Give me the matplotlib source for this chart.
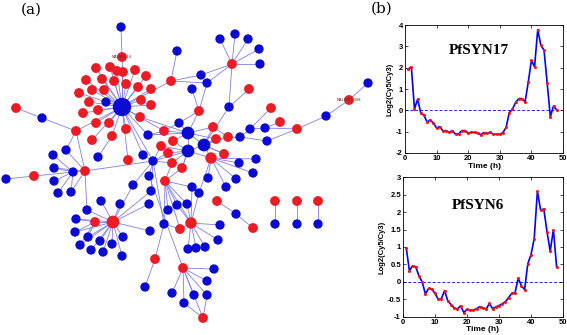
import matplotlib
matplotlib.use("Agg")
import matplotlib.pyplot as plt
import numpy as np

# ---------------- Network data (layout coordinates) ----------------
node_x = [122,121,122,96,110,117,123,135,146,86,102,114,126,138,151,79,92,104,89,106,
          141,151,83,98,140,96,109,126,112,92,76,128,98,143,148,16,42,66,53,54,
          85,73,54,34,6,58,71,177,171,192,201,207,232,220,235,248,259,260,249,229,
          199,271,280,265,250,240,267,297,326,349,368,179,188,164,173,161,213,216,228,188,
          204,168,211,224,153,172,182,239,256,253,236,226,208,192,199,165,149,133,151,149,
          120,101,87,113,95,76,75,88,80,91,100,103,112,122,123,150,164,180,191,168,
          177,187,220,218,205,196,188,155,145,183,214,207,207,194,172,184,203,217,236,253,
          275,275,297,297,318,318]
node_y = [107,27,57,68,67,71,72,70,76,80,79,81,84,87,89,93,90,90,102,102,
          100,105,113,110,117,123,123,129,136,140,131,160,157,155,135,108,118,150,155,168,
          171,172,181,176,179,193,192,51,81,89,75,83,64,39,34,39,49,64,89,107,
          111,108,122,128,129,137,141,129,116,100,83,123,133,131,141,146,127,139,137,151,
          145,153,158,154,161,163,168,163,159,173,179,187,178,187,193,181,176,185,191,204,
          204,201,210,222,222,219,232,237,245,250,241,252,244,256,237,231,224,229,223,210,
          205,204,225,240,247,248,249,259,287,268,269,281,295,295,293,303,318,201,214,228,
          201,224,201,224,201,224]
red_nodes = (list(range(2, 19)) + list(range(20, 32)) +
             [35, 40, 43, 48, 52, 58, 60, 61, 62, 67, 69, 73, 74, 75, 76, 77, 78,
              81, 82, 83, 85, 86, 95, 103, 104, 117, 118, 127, 129, 136, 137, 139,
              140, 142, 144])
node_size = {0: "H", 72: "L", 79: "L", 80: "L", 103: "L", 82: "M", 118: "M"}

edges = [(0,i) for i in range(2,32)] + [(0,33),(0,34),(0,48),(0,84),(0,73),
    (1,2),(30,36),(36,35),(30,37),(30,40),(28,32),
    (40,37),(40,39),(40,41),(40,46),(40,84),(40,102),
    (41,38),(41,39),(41,42),(41,43),(41,45),(41,46),(43,44),
    (48,47),(48,50),(48,51),(50,52),(51,52),(49,60),(51,60),
    (52,53),(52,54),(52,55),(52,56),(52,57),(52,59),(59,58),(60,72),(60,71),(59,80),
    (67,68),(68,69),(69,70),(67,63),(67,66),(63,62),(64,61),(64,63),(65,64),(65,78),(66,65),
    (78,80),(78,76),
    (71,72),(72,73),(72,74),(72,79),(72,80),(72,76),(72,77),(72,24),(71,73),(79,75),(79,81),
    (79,85),(79,86),(79,80),(80,76),(80,77),(80,82),(80,83),(79,74),(72,34),(79,84),(73,34),
    (84,75),(84,81),(84,85),(84,33),(84,96),(84,97),(84,98),(82,87),(82,88),(82,89),(82,90),
    (82,91),(82,92),(82,94),(82,79),(83,80),(85,95),(86,95),(95,93),(95,119),(95,120),
    (95,121),(95,118),(95,117),(95,116),(86,79),
    (97,103),(98,103),(99,103),(100,103),(101,103),(102,103),
    (103,104),(103,105),(103,106),(103,107),(103,108),(103,109),(103,110),(103,111),
    (103,112),(103,113),(103,114),(103,115),(104,105),(104,106),(104,107),(104,108),
    (118,93),(118,94),(118,122),(118,123),(118,124),(118,125),(118,126),(118,120),
    (118,121),(118,117),(116,117),(116,127),(127,128),(116,84),(96,129),
    (129,130),(129,131),(129,132),(129,133),(129,134),(129,135),(129,136),(135,136),(132,136),
    (137,138),(138,139),(140,141),(142,143),(144,145)]

node_labels = {2: "MAL8P1.14", 69: "MAL13P1.308"}

# ---------------- Time course data ----------------
time_h = list(range(1, 49))
syn17 = [1.93,2.04,0.06,0.53,-0.14,-0.23,-0.55,-0.45,-0.60,-0.83,-0.76,-0.97,-0.95,-1.03,
         -0.95,-1.12,-1.10,-0.95,-0.95,-1.07,-1.03,-1.03,-1.07,-1.14,-1.04,-1.07,-1.03,-1.12,
         -1.12,-1.12,-1.04,-0.80,-0.11,0.05,0.37,0.55,0.55,0.40,1.31,2.35,2.04,3.78,3.05,
         2.82,1.26,-0.30,0.20,0.02]
syn6 = [0.98,0.32,0.46,0.43,0.16,0.00,-0.35,-0.19,-0.21,-0.33,-0.50,-0.48,-0.25,-0.55,
        -0.65,-0.75,-0.78,-0.69,-0.88,-0.79,-0.81,-0.81,-0.77,-0.71,-0.74,-0.78,-0.62,-0.77,
        -0.72,-0.68,-0.63,-0.57,-0.45,-0.33,-0.31,0.10,-0.11,-0.22,0.52,0.78,1.24,2.60,
        2.06,2.09,1.44,0.88,1.50,0.43]

W, H = 567, 335
fig = plt.figure(figsize=(W/100, H/100), dpi=100)

# ---------------- Network panel ----------------
axn = fig.add_axes([0, 0, 390/W, 1])
axn.set_xlim(0, 390)
axn.set_ylim(335, 0)
axn.axis("off")
for a, b in edges:
    axn.plot([node_x[a], node_x[b]], [node_y[a], node_y[b]],
             color="#7f7fe6", lw=0.6, zorder=1, solid_capstyle="round")
size_map = {"H": 175, "L": 85, "M": 68}
red_set = set(red_nodes)
for i, (x, y) in enumerate(zip(node_x, node_y)):
    is_red = i in red_set
    s = size_map.get(node_size.get(i, ""), 50 if is_red else 45)
    col = "#ec1c24" if is_red else "#0a0ad2"
    axn.scatter([x], [y], s=s, color=col, edgecolors="none", zorder=2)
for i, t in node_labels.items():
    axn.text(node_x[i], node_y[i], t, fontsize=2.6, color="#333333",
             ha="center", va="center", zorder=3)
fig.text(31/W, 1 - 10/H, "(a)", family="DejaVu Serif", fontsize=11,
         ha="center", va="center")
fig.text(382/W, 1 - 9/H, "(b)", family="DejaVu Serif", fontsize=11,
         ha="center", va="center")

# ---------------- Line panels ----------------
def panel(rect, y, ylim, yticks, yticklabels, title, title_y):
    ax = fig.add_axes(rect)
    ax.plot(time_h, y, color="#0000ff", lw=1.2, zorder=2)
    ax.plot(time_h, y, "o", color="#ff1010", ms=2.2, mec="none", zorder=3)
    ax.axhline(0, color="#2020ff", lw=0.7, ls=(0, (3, 2)), zorder=1)
    ax.set_xlim(0, 50)
    ax.set_ylim(*ylim)
    ax.set_xticks([0, 10, 20, 30, 40, 50])
    ax.set_yticks(yticks)
    ax.set_yticklabels(yticklabels)
    ax.tick_params(direction="in", length=2.5, width=0.5, labelsize=5.5, pad=1.5,
                   top=True, right=True)
    for lab in ax.get_xticklabels() + ax.get_yticklabels():
        lab.set_fontweight("bold")
        lab.set_family("Liberation Sans")
    for sp in ax.spines.values():
        sp.set_linewidth(0.6)
    ax.set_xlabel("Time (h)", fontsize=6, fontweight="bold",
                  family="Liberation Sans", labelpad=0.5)
    ax.set_ylabel("Log2(Cy5/Cy3)", fontsize=5.5, fontweight="bold",
                  family="Liberation Sans", labelpad=2)
    ax.text(0.47, title_y, title, transform=ax.transAxes, family="Liberation Serif",
            fontsize=11, fontweight="bold", ha="center", va="center")
    return ax

panel([405/W, 1 - 153/H, 158/W, 128/H], syn17, (-2, 4), range(-2, 5),
      [str(v) for v in range(-2, 5)], "PfSYN17", 0.8)
yt = [-1, -0.5, 0, 0.5, 1, 1.5, 2, 2.5, 3]
panel([403/W, 1 - 316.7/H, 160/W, 139.4/H], syn6, (-1, 3), yt,
      ["-1", "-0.5", "0", "0.5", "1", "1.5", "2", "2.5", "3"], "PfSYN6", 0.8)

fig.savefig("out.png", dpi=100)
